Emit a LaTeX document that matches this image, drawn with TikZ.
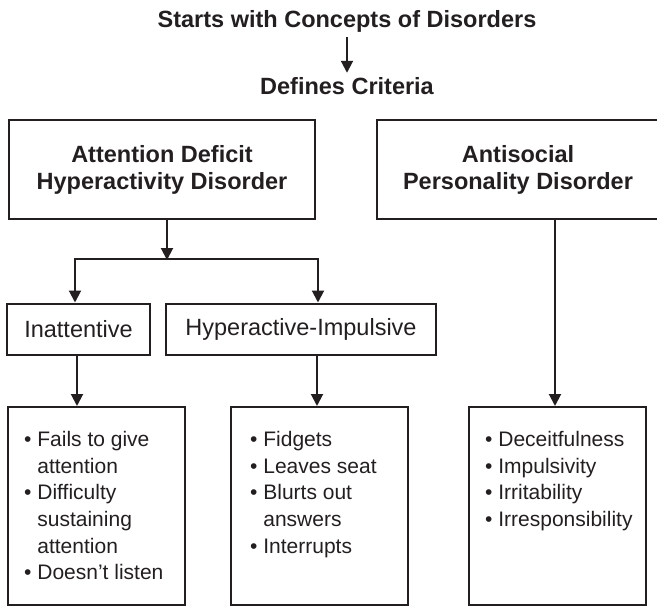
\documentclass[tikz,border=0pt]{standalone}
\usepackage{fontspec}
\setmainfont{Liberation Sans}
\usetikzlibrary{arrows.meta}
\definecolor{ink}{HTML}{231F20}
\begin{document}
\begin{tikzpicture}[x=1pt,y=-1pt,
  every node/.style={inner sep=0pt, text=ink},
  line/.style={draw=ink, line width=2pt},
  arr/.style={line, -{Triangle[width=12pt,length=12pt]}},
  head/.style={font=\fontsize{23.5}{27}\selectfont\bfseries, align=center},
  frame/.style={draw=ink, line width=2pt, rectangle},
  label/.style={frame, font=\fontsize{23.5}{27}\selectfont},
  items/.style={font=\fontsize{21}{26.7}\selectfont, align=left, anchor=north west}
]
\useasboundingbox (0,0) rectangle (657,606);

% heading and criteria
\node[head, anchor=base] (title) at (347,27) {Starts with Concepts of Disorders};
\node[head, anchor=base] (crit) at (347,94) {Defines Criteria};
\draw[arr, shorten <=5pt, shorten >=4pt] (title.south) -- (crit.north);

% disorder boxes
\node[frame, head, minimum width=306pt, minimum height=99pt] (adhd) at (162,169.5)
  {Attention Deficit\\Hyperactivity Disorder};
\node[frame, head, minimum width=282pt, minimum height=99pt] (aspd) at (518,169.5)
  {Antisocial\\Personality Disorder};

% ADHD subtypes
\node[label, minimum width=143pt, minimum height=51pt] (inatt) at (78.5,329) {Inattentive};
\node[label, minimum width=270pt, minimum height=51pt] (hyp) at (301,329) {Hyperactive-Impulsive};

% symptom boxes
\node[frame, minimum width=177pt, minimum height=198pt] (box1) at (96.5,506) {};
\node[frame, minimum width=177pt, minimum height=198pt] (box2) at (319.5,506) {};
\node[frame, minimum width=177pt, minimum height=198pt] (box3) at (557.5,506) {};

\node[items] (list1) at (24,431)
  {• Fails to give\\\phantom{• }attention\\• Difficulty\\\phantom{• }sustaining\\\phantom{• }attention\\• Doesn’t listen};
\node[items] (list2) at (250,431)
  {• Fidgets\\• Leaves seat\\• Blurts out\\\phantom{• }answers\\• Interrupts};
\node[items] (list3) at (485,431)
  {• Deceitfulness\\• Impulsivity\\• Irritability\\• Irresponsibility};

% connectors
\coordinate (split) at (167,259);
\coordinate (lft) at (75,259);
\coordinate (rgt) at (318,259);
\coordinate (c1) at (77,0);
\coordinate (c2) at (317,0);
\coordinate (c3) at (555,0);
\draw[arr] (adhd.south -| split) -- ([yshift=-1pt]split);
\draw[line] ([xshift=-1pt]lft) -- ([xshift=1pt]rgt);
\draw[arr] (lft) -- (lft |- inatt.north);
\draw[arr] (rgt) -- (rgt |- hyp.north);
\draw[arr] (inatt.south -| c1) -- (box1.north -| c1);
\draw[arr] (hyp.south -| c2) -- (box2.north -| c2);
\draw[arr] (aspd.south -| c3) -- (box3.north -| c3);
\end{tikzpicture}
\end{document}
